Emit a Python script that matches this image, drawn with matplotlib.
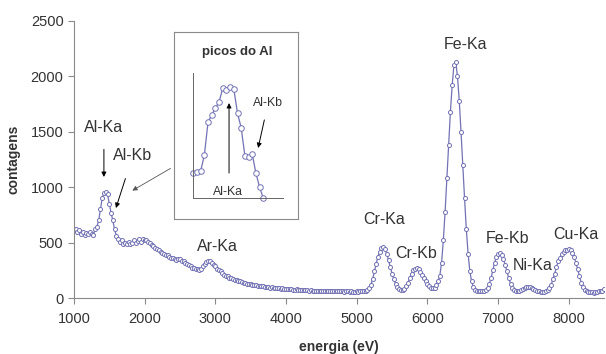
import numpy as np
import matplotlib
matplotlib.use("Agg")
import matplotlib.pyplot as plt

plt.rcParams['font.family'] = ['Liberation Sans', 'DejaVu Sans']

# energy channels (eV), 25 eV apart
energia = np.arange(1000, 8525, 25)

# counts, one row per 500 eV
contagens = [
    610, 620, 600, 615, 580, 600, 570, 590, 575, 600, 580, 570, 620, 645, 700, 800, 900, 950, 955, 940,
    850, 770, 700, 620, 560, 530, 510, 520, 490, 500, 485, 505, 490, 500, 520, 495, 515, 530, 510, 535,
    520, 525, 505, 500, 480, 470, 455, 445, 430, 420, 405, 400, 385, 390, 370, 365, 360, 350, 345, 355,
    350, 335, 330, 315, 310, 300, 290, 275, 270, 260, 265, 255, 265, 285, 305, 325, 335, 330, 320, 300,
    285, 265, 250, 240, 225, 210, 200, 195, 185, 180, 170, 165, 160, 155, 150, 145, 140, 135, 130, 130,
    125, 120, 118, 115, 112, 110, 108, 105, 100, 102, 98, 95, 97, 92, 90, 92, 88, 85, 87, 82,
    80, 82, 78, 80, 76, 75, 78, 73, 72, 74, 70, 72, 70, 68, 71, 67, 68, 66, 68, 65,
    66, 64, 66, 62, 65, 63, 62, 64, 60, 63, 61, 60, 62, 59, 61, 60, 58, 60, 59, 58,
    60, 58, 60, 62, 60, 65, 72, 90, 120, 170, 240, 310, 370, 420, 450, 460, 440, 400, 340, 280,
    220, 170, 130, 100, 80, 70, 72, 85, 110, 140, 180, 220, 250, 265, 270, 260, 235, 210, 180, 150,
    130, 110, 95, 88, 95, 120, 150, 200, 320, 520, 780, 1080, 1380, 1680, 1920, 2100, 2130, 2000, 1780, 1500,
    1200, 900, 620, 400, 240, 150, 100, 75, 65, 60, 62, 60, 65, 75, 95, 130, 180, 250, 320, 370,
    395, 405, 390, 350, 300, 240, 180, 130, 95, 75, 65, 62, 65, 70, 80, 90, 98, 100, 102, 95,
    85, 75, 65, 60, 55, 58, 55, 60, 70, 90, 120, 170, 220, 280, 330, 360, 395, 415, 430, 438,
    440, 430, 405, 370, 320, 260, 200, 140, 100, 75, 60, 55, 52, 55, 50, 55, 58, 62, 60, 65,
    80,
]

# zoom on the Al peaks (inset)
energia_al = np.arange(1300, 1700, 20)
contagens_al = [599, 604, 608, 672, 804, 832, 860, 885, 939, 932,
                943, 936, 839, 781, 669, 663, 675, 599, 543, 499]

cor = '#7272b4'
cinza = '#8a8a8a'
texto = '#333333'

fig = plt.figure(figsize=(6.06, 3.54), dpi=100)
ax = fig.add_axes([0.122, 0.158, 0.875, 0.783])

ax.plot(energia, contagens, color=cor, lw=0.9, marker='o', ms=2.9,
        mfc='white', mec=cor, mew=0.7)

ax.set_xlim(1000, 8500)
ax.set_ylim(0, 2500)
ax.set_xticks(range(1000, 9000, 1000))
ax.set_yticks(range(0, 3000, 500))
for s in ['top', 'right']:
    ax.spines[s].set_visible(False)
for s in ['left', 'bottom']:
    ax.spines[s].set_color(cinza)
ax.tick_params(colors=cinza, labelcolor=texto, labelsize=10.5, length=4)
ax.tick_params(axis='x', pad=6)
ax.set_xlabel('energia (eV)', fontsize=10, fontweight='bold', color=texto)
ax.set_ylabel('contagens', fontsize=10, fontweight='bold', color=texto)
ax.xaxis.set_label_coords(0.5, -0.15)
ax.yaxis.set_label_coords(-0.1, 0.5)

seta = dict(arrowstyle='-|>', color='black', lw=0.7, mutation_scale=7)
ax.annotate('Al-Ka', xy=(1424, 1092), xytext=(1424, 1534), ha='center', va='center',
            fontsize=11.5, color=texto, arrowprops=dict(seta, shrinkA=8, shrinkB=0))
ax.annotate('Al-Kb', xy=(1594, 812), xytext=(1835, 1290), ha='center', va='center',
            fontsize=11.5, color=texto, arrowprops=dict(seta, shrinkA=10, shrinkB=0))
ax.annotate('', xy=(1792, 957), xytext=(2400, 1182),
            arrowprops=dict(arrowstyle='-|>', color='#555555', lw=0.6, mutation_scale=7))

picos = [('Ar-Ka', 3023, 469), ('Cr-Ka', 5385, 713), ('Cr-Kb', 5837, 406),
         ('Fe-Ka', 6545, 2283), ('Fe-Kb', 7139, 541), ('Ni-Ka', 7492, 298),
         ('Cu-Ka', 8100, 569)]
for nome, x, y in picos:
    ax.text(x, y, nome, ha='center', va='center', fontsize=11.5, color=texto)

# inset box
caixa = fig.add_axes([0.287, 0.381, 0.2046, 0.528])
caixa.set_xticks([])
caixa.set_yticks([])
for s in caixa.spines.values():
    s.set_color(cinza)
    s.set_linewidth(0.8)
caixa.text(0.508, 0.893, 'picos do Al', transform=caixa.transAxes, ha='center',
           va='center', fontsize=9.5, fontweight='bold', color=texto)

ins = fig.add_axes([0.319, 0.4407, 0.148, 0.353])
ins.patch.set_alpha(0)
ins.plot(energia_al, contagens_al, color=cor, lw=0.9, marker='o', ms=4,
         mfc='white', mec=cor, mew=0.7, clip_on=False)
ins.set_xlim(1300, 1787)
ins.set_ylim(500, 1000)
ins.set_xticks([])
ins.set_yticks([])
for s in ['top', 'right']:
    ins.spines[s].set_visible(False)
for s in ['left', 'bottom']:
    ins.spines[s].set_color('#666666')
    ins.spines[s].set_linewidth(0.7)
ins.annotate('', xy=(1494, 880), xytext=(1494, 600),
             arrowprops=dict(seta, shrinkA=0, shrinkB=0))
ins.text(1489, 522, 'Al-Ka', ha='center', va='center', fontsize=8.8, color=texto)
ins.annotate('Al-Kb', xy=(1652, 700), xytext=(1706, 880), ha='center', va='center',
             fontsize=8.8, color=texto, arrowprops=dict(seta, shrinkA=6, shrinkB=0))

fig.savefig('out.png', dpi=100)
